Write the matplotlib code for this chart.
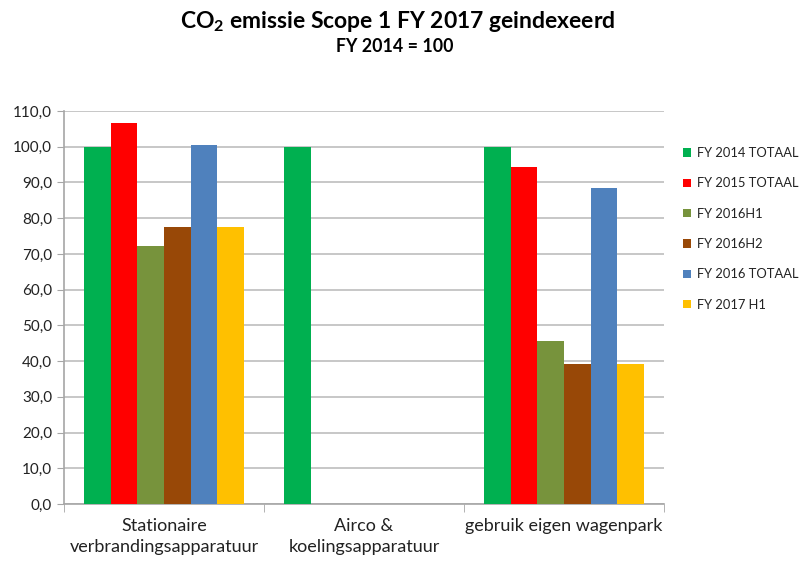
import numpy as np
import matplotlib
matplotlib.use("Agg")
import matplotlib.pyplot as plt
from matplotlib.ticker import FuncFormatter, MultipleLocator

plt.rcParams['font.family'] = ['Lato', 'DejaVu Sans']
plt.rcParams['mathtext.fontset'] = 'custom'
plt.rcParams['mathtext.rm'] = 'Lato:bold'
plt.rcParams['mathtext.bf'] = 'Lato:bold'

categories = ["Stationaire\nverbrandingsapparatuur",
              "Airco &\nkoelingsapparatuur",
              "gebruik eigen wagenpark"]
series = ["FY 2014 TOTAAL", "FY 2015 TOTAAL", "FY 2016H1",
          "FY 2016H2", "FY 2016 TOTAAL", "FY 2017 H1"]
colors = ["#00B050", "#FF0000", "#77933C", "#984807", "#4F81BD", "#FFC000"]

# index per series, one value per category
fy2014 = [100.0, 100.0, 100.0]
fy2015 = [106.6, 0.0, 94.4]
fy2016h1 = [72.3, 0.0, 45.6]
fy2016h2 = [77.4, 0.0, 39.1]
fy2016 = [100.5, 0.0, 88.5]
fy2017h1 = [77.4, 0.0, 39.1]
values = [fy2014, fy2015, fy2016h1, fy2016h2, fy2016, fy2017h1]

fig = plt.figure(figsize=(8.09, 5.63), dpi=100)
ax = fig.add_axes([64/809, 1-504/563, 600/809, 393/563])

x = np.arange(len(categories))
w = 1/7.5
for i, (name, vals, c) in enumerate(zip(series, values, colors)):
    ax.bar(x + (i - 2.5)*w, vals, width=w, color=c, label=name, zorder=3)

ax.set_xlim(-0.5, 2.5)
ax.set_ylim(0, 110)
ax.yaxis.set_major_locator(MultipleLocator(10))
ax.yaxis.set_major_formatter(FuncFormatter(lambda v, p: f"{v:.1f}".replace('.', ',')))
ax.grid(axis='y', color='#BEBEBE', linewidth=1.2, zorder=0)
ax.set_axisbelow(True)

ax.set_xticks(x)
ax.set_xticklabels(categories, fontsize=13, color='#222222', linespacing=1.4)
ax.set_xticks([-0.5, 0.5, 1.5, 2.5], minor=True)
ax.tick_params(axis='x', which='major', length=0, pad=10)
ax.tick_params(axis='x', which='minor', length=6, color='#A6A6A6')
ax.tick_params(axis='y', length=5, color='#A6A6A6', labelsize=11, labelcolor='#222222')

for s in ['top', 'right']:
    ax.spines[s].set_visible(False)
ax.spines['left'].set_color('#A6A6A6')
ax.spines['bottom'].set_color('#A6A6A6')
ax.spines['left'].set_linewidth(1.2)
ax.spines['bottom'].set_linewidth(1.2)

leg = ax.legend(loc='upper left', bbox_to_anchor=((683-64)/600, 1-(147-111)/393),
                frameon=False, fontsize=9.3, handlelength=0.62, handleheight=0.62,
                handletextpad=0.47, labelspacing=1.42, borderaxespad=0, borderpad=0)
for t in leg.get_texts():
    t.set_color('#222222')

fig.text(0.492, 1-22/563, r"CO$_{\mathrm{2}}$ emissie Scope 1 FY 2017 geindexeerd",
         ha='center', va='center', fontsize=16.5, fontweight='bold')
fig.text(0.488, 1-47/563, "FY 2014 = 100", ha='center', va='center',
         fontsize=12.8, fontweight='bold')

fig.savefig("out.png", dpi=100)
